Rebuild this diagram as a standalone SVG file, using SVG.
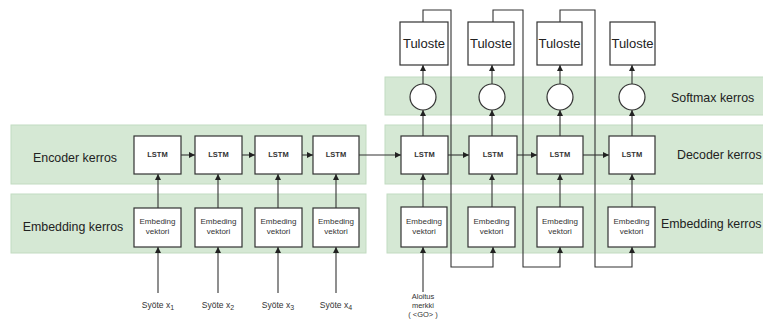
<svg xmlns="http://www.w3.org/2000/svg" width="763" height="320" viewBox="0 0 763 320">
  <defs>
    <marker id="arrow" viewBox="0 0 10 10" refX="10" refY="5" markerWidth="6" markerHeight="6" orient="auto" markerUnits="userSpaceOnUse">
      <path d="M0,0 L10,5 L0,10 Z" fill="#222"/>
    </marker>
    <style>
      .band { fill: #d5e8d4; stroke: #c2dbc1; stroke-width: 1; }
      .box { fill: #ffffff; stroke: #333; stroke-width: 1.2; }
      .conn { fill: none; stroke: #333; stroke-width: 1.1; }
      .arr { marker-end: url(#arrow); }
      .bandlabel { font-family: "Liberation Sans", Arial, sans-serif; font-size: 12.4px; fill: #222; }
      .lstm { font-family: "Liberation Sans", Arial, sans-serif; font-size: 7.5px; font-weight: bold; fill: #333; text-anchor: middle; }
      .emb { font-family: "Liberation Sans", Arial, sans-serif; font-size: 8px; fill: #333; text-anchor: middle; }
      .out { font-family: "Liberation Sans", Arial, sans-serif; font-size: 13px; fill: #222; text-anchor: middle; }
      .input { font-family: "Liberation Sans", Arial, sans-serif; font-size: 8.5px; fill: #333; text-anchor: middle; }
      .go { font-family: "Liberation Sans", Arial, sans-serif; font-size: 7.5px; fill: #333; text-anchor: middle; }
    </style>
  </defs>

  <!-- layer bands -->
  <g id="bands">
    <rect id="encoder-band" class="band" x="11" y="125" width="355" height="59"/>
    <rect id="enc-embedding-band" class="band" x="11" y="194" width="355" height="59"/>
    <rect id="softmax-band" class="band" x="385" y="77" width="382" height="38"/>
    <rect id="decoder-band" class="band" x="385" y="125" width="382" height="59"/>
    <rect id="dec-embedding-band" class="band" x="387" y="194" width="380" height="59"/>
    <text class="bandlabel" x="75" y="162" text-anchor="middle">Encoder kerros</text>
    <text class="bandlabel" x="73" y="231" text-anchor="middle">Embedding kerros</text>
    <text class="bandlabel" x="671" y="102">Softmax kerros</text>
    <text class="bandlabel" x="677" y="159">Decoder kerros</text>
    <text class="bandlabel" x="661" y="228">Embedding kerros</text>
  </g>

  <!-- connectors -->
  <g id="connectors">
    <!-- encoder embedding -> LSTM -->
    <line class="conn arr" x1="158" y1="208" x2="158" y2="174"/>
    <line class="conn arr" x1="218" y1="208" x2="218" y2="174"/>
    <line class="conn arr" x1="278" y1="208" x2="278" y2="174"/>
    <line class="conn arr" x1="336" y1="208" x2="336" y2="174"/>
    <!-- inputs -> encoder embedding -->
    <line class="conn arr" x1="158" y1="293" x2="158" y2="247"/>
    <line class="conn arr" x1="218" y1="293" x2="218" y2="247"/>
    <line class="conn arr" x1="278" y1="293" x2="278" y2="247"/>
    <line class="conn arr" x1="336" y1="293" x2="336" y2="247"/>
    <!-- encoder LSTM chain -->
    <line class="conn arr" x1="181" y1="155" x2="195" y2="155"/>
    <line class="conn arr" x1="242" y1="155" x2="255" y2="155"/>
    <line class="conn arr" x1="302" y1="155" x2="313" y2="155"/>
    <line class="conn arr" x1="359" y1="155" x2="401" y2="155"/>
    <!-- decoder LSTM chain -->
    <line class="conn arr" x1="448" y1="155" x2="469" y2="155"/>
    <line class="conn arr" x1="517" y1="155" x2="537" y2="155"/>
    <line class="conn arr" x1="583" y1="155" x2="609" y2="155"/>
    <!-- decoder embedding -> LSTM -->
    <line class="conn arr" x1="423" y1="207" x2="423" y2="174"/>
    <line class="conn arr" x1="492" y1="207" x2="492" y2="174"/>
    <line class="conn arr" x1="560" y1="207" x2="560" y2="174"/>
    <line class="conn arr" x1="632" y1="207" x2="632" y2="174"/>
    <!-- LSTM -> softmax -->
    <line class="conn arr" x1="423" y1="136" x2="423" y2="110"/>
    <line class="conn arr" x1="492" y1="136" x2="492" y2="110"/>
    <line class="conn arr" x1="560" y1="136" x2="560" y2="110"/>
    <line class="conn arr" x1="632" y1="136" x2="632" y2="110"/>
    <!-- softmax -> output -->
    <line class="conn arr" x1="423" y1="84" x2="423" y2="65"/>
    <line class="conn arr" x1="492" y1="84" x2="492" y2="65"/>
    <line class="conn arr" x1="560" y1="84" x2="560" y2="65"/>
    <line class="conn arr" x1="632" y1="84" x2="632" y2="65"/>
    <!-- start token -> first decoder embedding -->
    <line class="conn arr" x1="423" y1="292" x2="423" y2="247"/>
    <!-- output feedback loops -->
    <polyline class="conn arr" points="423,22 423,10 451,10 451,267 493,267 493,247"/>
    <polyline class="conn arr" points="493,22 493,10 523,10 523,267 560,267 560,247"/>
    <polyline class="conn arr" points="560,22 560,10 595,10 595,267 632,267 632,247"/>
  </g>

  <!-- encoder LSTM nodes -->
  <g id="enc-lstm-1"><rect class="box" x="134" y="136" width="47" height="38"/><text class="lstm" x="157.5" y="157">LSTM</text></g>
  <g id="enc-lstm-2"><rect class="box" x="195" y="136" width="47" height="38"/><text class="lstm" x="218.5" y="157">LSTM</text></g>
  <g id="enc-lstm-3"><rect class="box" x="255" y="136" width="47" height="38"/><text class="lstm" x="278.5" y="157">LSTM</text></g>
  <g id="enc-lstm-4"><rect class="box" x="313" y="136" width="46" height="38"/><text class="lstm" x="336" y="157">LSTM</text></g>

  <!-- encoder embedding nodes -->
  <g id="enc-emb-1"><rect class="box" x="134" y="208" width="47" height="39"/><text class="emb" x="157.5" y="224">Embeding</text><text class="emb" x="157.5" y="234">vektori</text></g>
  <g id="enc-emb-2"><rect class="box" x="195" y="208" width="47" height="39"/><text class="emb" x="218.5" y="224">Embeding</text><text class="emb" x="218.5" y="234">vektori</text></g>
  <g id="enc-emb-3"><rect class="box" x="255" y="208" width="47" height="39"/><text class="emb" x="278.5" y="224">Embeding</text><text class="emb" x="278.5" y="234">vektori</text></g>
  <g id="enc-emb-4"><rect class="box" x="313" y="208" width="46" height="39"/><text class="emb" x="336" y="224">Embeding</text><text class="emb" x="336" y="234">vektori</text></g>

  <!-- encoder inputs -->
  <g id="input-1"><text class="input" x="158" y="308">Syöte x<tspan dy="2" font-size="7px">1</tspan></text></g>
  <g id="input-2"><text class="input" x="218" y="308">Syöte x<tspan dy="2" font-size="7px">2</tspan></text></g>
  <g id="input-3"><text class="input" x="278" y="308">Syöte x<tspan dy="2" font-size="7px">3</tspan></text></g>
  <g id="input-4"><text class="input" x="336" y="308">Syöte x<tspan dy="2" font-size="7px">4</tspan></text></g>

  <!-- decoder LSTM nodes -->
  <g id="dec-lstm-1"><rect class="box" x="401" y="136" width="47" height="38"/><text class="lstm" x="424.5" y="157">LSTM</text></g>
  <g id="dec-lstm-2"><rect class="box" x="469" y="136" width="48" height="38"/><text class="lstm" x="493" y="157">LSTM</text></g>
  <g id="dec-lstm-3"><rect class="box" x="537" y="136" width="46" height="38"/><text class="lstm" x="560" y="157">LSTM</text></g>
  <g id="dec-lstm-4"><rect class="box" x="609" y="136" width="46" height="38"/><text class="lstm" x="632" y="157">LSTM</text></g>

  <!-- decoder embedding nodes -->
  <g id="dec-emb-1"><rect class="box" x="401" y="207" width="46" height="40"/><text class="emb" x="424" y="224">Embeding</text><text class="emb" x="424" y="234">vektori</text></g>
  <g id="dec-emb-2"><rect class="box" x="468" y="207" width="47" height="40"/><text class="emb" x="491.5" y="224">Embeding</text><text class="emb" x="491.5" y="234">vektori</text></g>
  <g id="dec-emb-3"><rect class="box" x="537" y="207" width="46" height="40"/><text class="emb" x="560" y="224">Embeding</text><text class="emb" x="560" y="234">vektori</text></g>
  <g id="dec-emb-4"><rect class="box" x="608" y="207" width="47" height="40"/><text class="emb" x="631.5" y="224">Embeding</text><text class="emb" x="631.5" y="234">vektori</text></g>

  <!-- softmax nodes -->
  <g id="softmax-1"><circle class="box" cx="423" cy="97" r="13"/></g>
  <g id="softmax-2"><circle class="box" cx="492" cy="97" r="13"/></g>
  <g id="softmax-3"><circle class="box" cx="560" cy="97" r="13"/></g>
  <g id="softmax-4"><circle class="box" cx="632" cy="97" r="13"/></g>

  <!-- output nodes -->
  <g id="output-1"><rect class="box" x="400" y="22" width="48" height="43"/><text class="out" x="424" y="48">Tuloste</text></g>
  <g id="output-2"><rect class="box" x="468" y="22" width="46" height="43"/><text class="out" x="491" y="48">Tuloste</text></g>
  <g id="output-3"><rect class="box" x="537" y="22" width="45" height="43"/><text class="out" x="559.5" y="48">Tuloste</text></g>
  <g id="output-4"><rect class="box" x="610" y="22" width="45" height="43"/><text class="out" x="632.5" y="48">Tuloste</text></g>

  <!-- start token -->
  <g id="start-token">
    <text class="go" x="423" y="299">Aloitus</text>
    <text class="go" x="423" y="308">merkki</text>
    <text class="go" x="423" y="317">( &lt;GO&gt; )</text>
  </g>
</svg>
